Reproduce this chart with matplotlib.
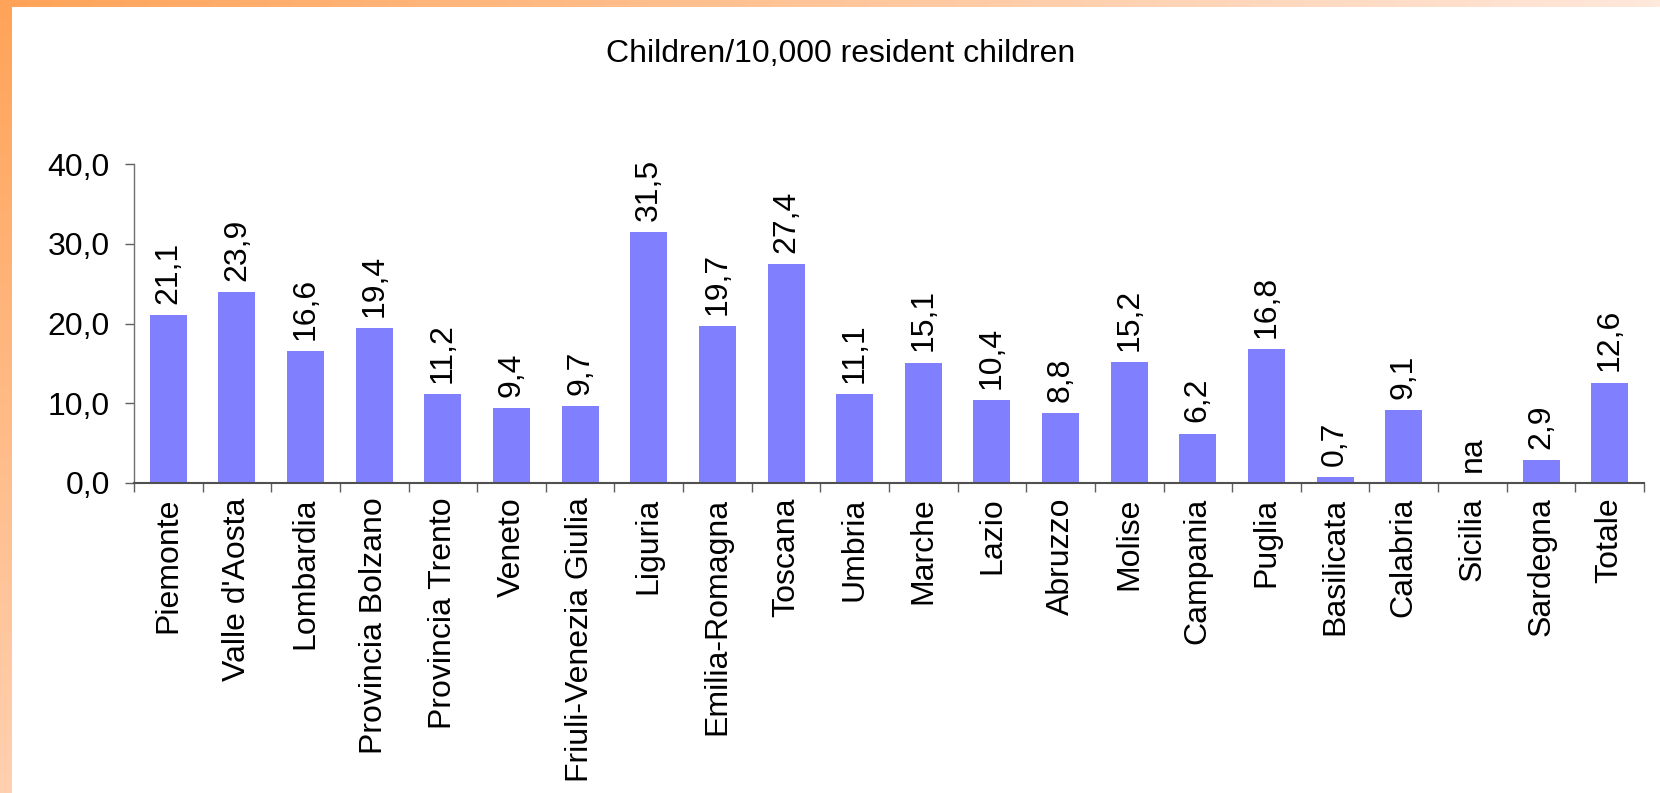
import matplotlib
matplotlib.use('Agg')
import matplotlib.pyplot as plt
import numpy as np

plt.rcParams['font.family'] = ['Liberation Sans', 'DejaVu Sans']

# Data
regions = ['Piemonte', "Valle d'Aosta", 'Lombardia', 'Provincia Bolzano',
           'Provincia Trento', 'Veneto', 'Friuli-Venezia Giulia', 'Liguria',
           'Emilia-Romagna', 'Toscana', 'Umbria', 'Marche', 'Lazio', 'Abruzzo',
           'Molise', 'Campania', 'Puglia', 'Basilicata', 'Calabria', 'Sicilia',
           'Sardegna', 'Totale']
rates = [21.1, 23.9, 16.6, 19.4, 11.2, 9.4, 9.7, 31.5, 19.7, 27.4, 11.1,
         15.1, 10.4, 8.8, 15.2, 6.2, 16.8, 0.7, 9.1, np.nan, 2.9, 12.6]
y_ticks = [0, 10, 20, 30, 40]
title = 'Children/10,000 resident children'

BAR_COLOR = '#8080ff'
FS = 23

fig = plt.figure(figsize=(16.6, 7.93), dpi=100)
W, H = 1660, 793

# orange frame strips (top and left)
top = fig.add_axes([0, 1 - 7 / H, 1, 7 / H])
t = np.linspace(0, 1, 256)
c0 = np.array([255, 163, 88]) / 255
c1 = np.array([255, 232, 220]) / 255
grad = c0 + (c1 - c0) * t[:, None]
top.imshow(grad[None, :, :], aspect='auto', extent=[0, 1, 0, 1])
top.axis('off')

left = fig.add_axes([0, 0, 11 / W, 1])
c2 = np.array([255, 208, 176]) / 255
gradv = c0 + (c2 - c0) * t[:, None]
left.imshow(gradv[:, None, :], aspect='auto', extent=[0, 1, 0, 1])
left.axis('off')

ax = fig.add_axes([134 / W, 1 - 483 / H, 1510 / W, 319 / H])
x = np.arange(len(regions))
vals = np.nan_to_num(np.array(rates, dtype=float))
ax.bar(x, vals, width=0.54, color=BAR_COLOR, zorder=2)

for xi, v in zip(x, rates):
    if np.isnan(v):
        lab, yv = 'na', 0
    else:
        lab, yv = f'{v:.1f}'.replace('.', ','), v
    ax.annotate(lab, (xi, yv), xytext=(0, 8), textcoords='offset points',
                rotation=90, ha='center', va='bottom', fontsize=FS)

ax.set_xlim(-0.5, len(regions) - 0.5)
ax.set_ylim(0, 40)
ax.set_yticks(y_ticks)
ax.set_yticklabels([f'{v:.1f}'.replace('.', ',') for v in y_ticks], fontsize=FS)
ax.set_xticks(x)
ax.set_xticklabels(regions, rotation=90, fontsize=FS)
ax.set_xticks(np.arange(len(regions) + 1) - 0.5, minor=True)
ax.tick_params(axis='x', which='major', length=0, pad=10.5)
ax.tick_params(axis='x', which='minor', length=6.5, color='#606060', width=1)
ax.tick_params(axis='y', length=6.5, color='#606060', width=1, pad=11)

for s in ['top', 'right']:
    ax.spines[s].set_visible(False)
ax.spines['left'].set_color('#707070')
ax.spines['left'].set_linewidth(1)
ax.spines['bottom'].set_color('#505050')
ax.spines['bottom'].set_linewidth(1.5)

fig.text(841 / W, 1 - 62 / H, title, ha='center', va='baseline', fontsize=FS)

fig.savefig('out.png', dpi=100)
